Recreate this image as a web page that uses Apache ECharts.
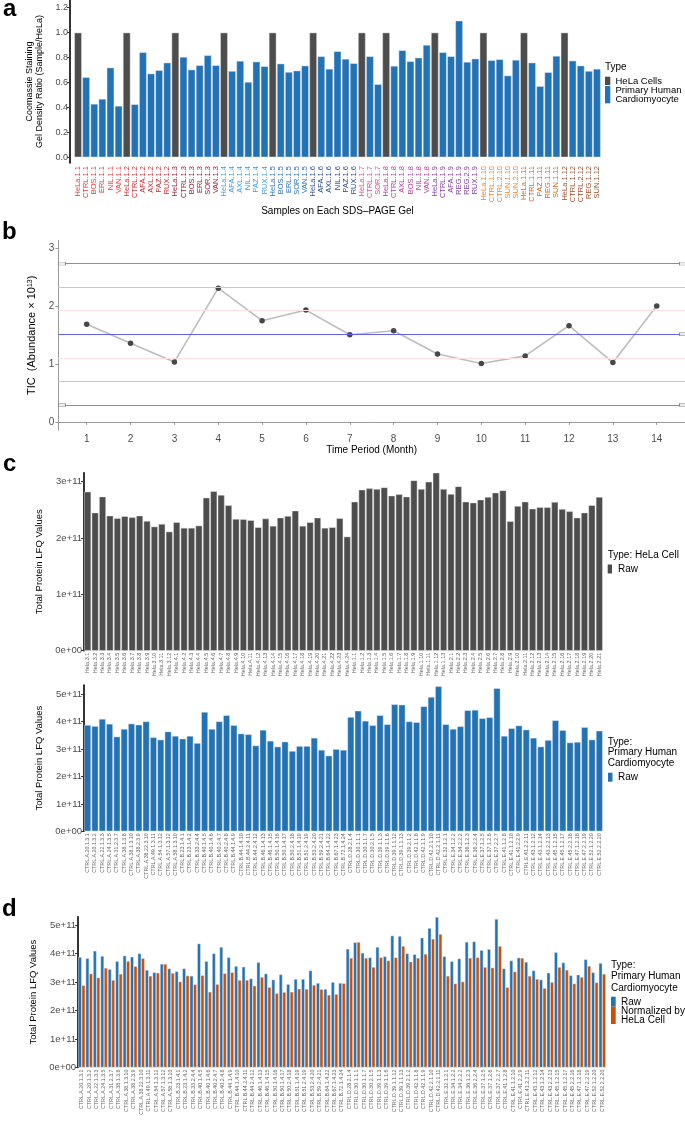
<!DOCTYPE html>
<html><head><meta charset="utf-8">
<script src="https://cdn.jsdelivr.net/npm/echarts@6/dist/echarts.min.js"></script>
<style>html,body{margin:0;padding:0;background:#fff}#chart{width:685px;height:1121px}</style>
</head><body><div id="chart"></div>
<script>
// ---------- Panel a ----------
const gelSamples = ['HeLa.1.1','CTRL.1.1','BOS.1.1','ERL.1.1','NIL.1.1','VAN.1.1',
 'HeLa.1.2','CTRL.1.2','AFA.1.2','AXL.1.2','PAZ.1.2','RUX.1.2',
 'HeLa.1.3','CTRL.1.3','BOS.1.3','ERL.1.3','SOR.1.3','VAN.1.3',
 'HeLa.1.4','AFA.1.4','AXL.1.4','NIL.1.4','PAZ.1.4','RUX.1.4',
 'HeLa.1.5','BOS.1.5','ERL.1.5','SOR.1.5','VAN.1.5',
 'HeLa.1.6','AFA.1.6','AXL.1.6','NIL.1.6','PAZ.1.6','RUX.1.6',
 'HeLa.1.7','CTRL.1.7','SOR.1.7',
 'HeLa.1.8','CTRL.1.8','AXL.1.8','BOS.1.8','NIL.1.8','VAN.1.8',
 'HeLa.1.9','CTRL.1.9','AFA.1.9','REG.1.9','REG.2.9','RUX.1.9',
 'HeLa.1.10','CTRL.1.10','CTRL.2.10','SUN.1.10','SUN.2.10',
 'HeLa.1.11','CTRL.1.11','PAZ.1.11','REG.1.11','SUN.1.11',
 'HeLa.1.12','CTRL.1.12','CTRL.2.12','REG.1.12','SUN.1.12'];
const gelRatio = [1.0,0.642,0.428,0.468,0.719,0.412,
 1.0,0.425,0.842,0.671,0.698,0.759,
 1.0,0.805,0.703,0.738,0.818,0.738,
 1.0,0.692,0.773,0.604,0.767,0.730,
 1.0,0.751,0.684,0.695,0.735,
 1.0,0.810,0.709,0.850,0.789,0.754,
 1.0,0.810,0.586,
 1.0,0.733,0.858,0.770,0.799,0.901,
 1.0,0.842,0.810,1.096,0.765,0.791,
 1.0,0.778,0.786,0.655,0.781,
 1.0,0.759,0.570,0.682,0.813,
 1.0,0.775,0.735,0.692,0.709];
const gelLabelColors = ['#e8383a','#cc2f36','#962035','#3f9ddc','#2c70b8','#2d4a8e',
 '#dc4a9c','#b23c9e','#8a3da2','#f28127','#d2652a','#9a4e2c'];
const ratioTicks = [0,0.2,0.4,0.6,0.8,1.0,1.2];

// ---------- Panel b ----------
const months = [1,2,3,4,5,6,7,8,9,10,11,12,13,14];
const ticValues = [1.690,1.362,1.040,2.316,1.753,1.937,1.511,1.580,1.178,1.011,1.144,1.667,1.029,2.006];
const ticLimits = [2.741,2.328,1.925,1.517,1.109,0.701,0.293];
const ticLimitColors = ['#e86a68','#f6b4b2','#fde0e0','#5f5ff2','#fde0e0','#f6b4b2','#e86a68'];
const ticTicks = [0,1,2,3];

// ---------- Panel c (HeLa) ----------
const helaSamples = ['Hela.3.1','Hela.3.2','Hela.3.3','Hela.3.4','Hela.3.5','Hela.3.6','Hela.3.7','Hela.3.8','Hela.3.9','Hela.3.10','Hela.3.11','Hela.3.12',
 'Hela.4.1','Hela.4.2','Hela.4.3','Hela.4.4','Hela.4.5','Hela.4.6','Hela.4.7','Hela.4.8','Hela.4.9','Hela.4.10','Hela.4.11','Hela.4.12',
 'Hela.4.13','Hela.4.14','Hela.4.15','Hela.4.16','Hela.4.17','Hela.4.18','Hela.4.19','Hela.4.20','Hela.4.21','Hela.4.22','Hela.4.23','Hela.4.24',
 'Hela.1.1','Hela.1.2','Hela.1.3','Hela.1.4','Hela.1.5','Hela.1.6','Hela.1.7','Hela.1.8','Hela.1.9','Hela.1.10','Hela.1.11','Hela.1.12','Hela.1.13',
 'Hela.2.1','Hela.2.2','Hela.2.3','Hela.2.4','Hela.2.5','Hela.2.6','Hela.2.7','Hela.2.8','Hela.2.9','Hela.2.10','Hela.2.11',
 'Hela.2.12','Hela.2.13','Hela.2.14','Hela.2.15','Hela.2.16','Hela.2.17','Hela.2.18','Hela.2.19','Hela.2.20','Hela.2.21'];
const helaRaw = [2.823,2.451,2.734,2.397,2.350,2.386,2.368,2.397,2.303,2.203,
 2.250,2.114,2.280,2.180,2.180,2.221,2.717,2.829,2.764,2.581,
 2.339,2.333,2.315,2.191,2.345,2.215,2.362,2.392,2.486,2.215,
 2.280,2.362,2.180,2.191,2.350,2.025,2.645,2.858,2.882,2.870,
 2.899,2.752,2.776,2.734,3.023,2.870,3.000,3.159,2.870,2.781,
 2.917,2.645,2.628,2.681,2.728,2.805,2.846,2.297,2.569,2.645,
 2.521,2.545,2.545,2.640,2.515,2.474,2.362,2.451,2.581,2.728];

// ---------- Panel c (cardiomyocyte) & d ----------
const cmSamples = ['CTRL.A.20.1.3.1','CTRL.A.20.1.3.2','CTRL.A.22.1.3.3','CTRL.A.24.1.3.5','CTRL.A.31.2.3.7','CTRL.A.38.1.3.8','CTRL.A.38.1.3.10','CTRL.A.38.2.3.9','CTRL.A.38.22.3.10','CTRL.A.49.1.3.11','CTRL.A.54.1.3.12','CTRL.A.57.1.3.12','CTRL.A.58.1.3.10',
 'CTRL.B.23.1.4.1','CTRL.B.23.1.4.2','CTRL.B.33.2.4.4','CTRL.B.40.1.4.5','CTRL.B.40.1.4.6','CTRL.B.40.2.4.7','CTRL.B.40.2.4.8','CTRL.B.44.1.4.9','CTRL.B.44.1.4.10','CTRL.B.44.2.4.11','CTRL.B.44.2.4.12','CTRL.B.46.1.4.13','CTRL.B.46.1.4.15','CTRL.B.50.1.4.16','CTRL.B.50.1.4.17','CTRL.B.50.2.4.18','CTRL.B.51.1.4.19','CTRL.B.51.2.4.19','CTRL.B.53.2.4.20','CTRL.B.59.2.4.21','CTRL.B.64.1.4.22','CTRL.B.67.1.4.23','CTRL.B.72.1.4.24',
 'CTRL.D.28.2.1.4','CTRL.D.30.1.1.1','CTRL.D.30.1.1.7','CTRL.D.30.2.1.5','CTRL.D.39.1.1.3','CTRL.D.39.1.1.6','CTRL.D.39.1.1.12','CTRL.D.39.1.1.13','CTRL.D.39.2.1.2','CTRL.D.42.1.1.8','CTRL.D.42.1.1.9','CTRL.D.42.2.1.10','CTRL.D.42.2.1.11',
 'CTRL.E.32.1.2.1','CTRL.E.34.1.2.2','CTRL.E.34.2.2.2','CTRL.E.36.1.2.3','CTRL.E.36.2.2.4','CTRL.E.37.1.2.5','CTRL.E.37.1.2.6','CTRL.E.37.2.2.7','CTRL.E.41.1.2.8','CTRL.E.41.1.2.10','CTRL.E.41.2.2.9','CTRL.E.41.2.2.11','CTRL.E.43.1.2.12','CTRL.E.43.1.2.14','CTRL.E.43.2.2.13','CTRL.E.45.1.2.15','CTRL.E.45.1.2.17','CTRL.E.45.2.2.16','CTRL.E.47.1.2.18','CTRL.E.47.2.2.19','CTRL.E.52.1.2.20','CTRL.E.52.2.2.20'];
const cmRaw = [3.88,3.84,4.10,3.92,3.455,3.735,3.93,3.89,4.01,3.43,
 3.345,3.64,3.48,3.38,3.48,3.22,4.355,3.735,4.01,4.235,
 3.87,3.565,3.54,3.13,3.70,3.30,3.09,3.27,2.93,3.11,
 3.11,3.41,2.97,2.76,3.00,2.97,4.17,4.40,4.03,3.87,
 4.235,3.905,4.635,4.62,4.01,3.98,4.56,4.90,5.29,3.905,
 3.735,3.83,4.415,4.43,4.125,4.16,5.22,3.48,3.76,3.86,
 3.71,3.41,3.09,3.33,4.05,3.69,3.24,3.26,3.80,3.345,3.67];
const cmNorm = [2.89,3.30,3.16,3.50,3.075,3.29,3.74,3.56,3.84,3.22,
 3.33,3.64,3.32,3.02,3.23,2.92,3.24,2.66,2.93,3.31,
 3.345,3.075,3.075,2.875,3.18,2.82,2.61,2.65,2.66,2.77,
 2.76,2.90,2.75,2.55,2.58,2.96,3.85,4.41,3.85,3.53,
 3.87,3.76,3.87,4.27,3.72,3.85,3.99,4.52,4.69,3.22,
 2.95,3.02,3.85,3.87,3.53,3.51,4.27,2.82,3.37,3.85,
 3.22,3.11,2.79,3.00,3.53,3.43,2.95,3.18,3.57,2.99,3.29];
const lfqTicks = [0,1,2,3,4,5];

// ---------- styling ----------
const FONT = '"Liberation Sans", Arial, Helvetica, sans-serif';
const GRAY = '#4d4d4d', BLUE = '#2272b6', ORANGE = '#cc4f08';
const lfqFmt = v => v === 0 ? '0e+00' : v + 'e+11';
const isHela = s => s.indexOf('HeLa') === 0;
const gelOf = s => parseInt(s.split('.').pop(), 10);

function lfqY(grid, max, gap) {
  return {
    type: 'value', gridIndex: grid, min: 0, max: max,
    axisLine: {show: true, lineStyle: {color: '#000', width: 1.6}},
    axisTick: {show: true, length: 3, lineStyle: {color: '#333'}, customValues: lfqTicks.filter(v => v <= max)},
    axisLabel: {fontSize: 9.5, color: GRAY, margin: 2, formatter: lfqFmt, customValues: lfqTicks.filter(v => v <= max)},
    splitLine: {show: false},
    name: 'Total Protein LFQ Values', nameLocation: 'middle', nameGap: gap,
    nameTextStyle: {fontSize: 9.5, color: '#000'}
  };
}
function sampleX(grid, data, fs) {
  return {
    type: 'category', gridIndex: grid, data: data,
    axisLine: {show: false}, axisTick: {show: false},
    axisLabel: {rotate: 90, interval: 0, fontSize: fs, color: '#666', margin: 2}
  };
}
const barBorder = {borderColor: 'rgba(235,235,235,0.9)', borderWidth: 0.5};

const limitSeries = ticLimits.map((v, i) => ({
  name: 'limit' + i, type: 'line', xAxisIndex: 1, yAxisIndex: 1, data: [], z: 1, silent: true,
  color: ticLimitColors[i],
  markLine: {symbol: 'none', silent: true, label: {show: false}, animation: false,
    lineStyle: {type: 'solid', width: 1.2, color: ticLimitColors[i], opacity: 1},
    data: [{yAxis: v}]}
}));

const option = {
  animation: false,
  textStyle: {fontFamily: FONT},
  grid: [
    {left: 74, right: 84, top: 0, height: 163, outerBoundsMode: 'none'},
    {left: 58.3, right: 0, top: 240.3, height: 190, outerBoundsMode: 'none'},
    {left: 84, right: 82, top: 472.7, height: 178, outerBoundsMode: 'none'},
    {left: 84, right: 82, top: 685, height: 146.3, outerBoundsMode: 'none'},
    {left: 78, right: 79, top: 916.7, height: 150.8, outerBoundsMode: 'none'}
  ],
  xAxis: [
    {
      type: 'category', gridIndex: 0, data: gelSamples,
      axisLine: {show: false}, axisTick: {show: false},
      axisLabel: {rotate: 90, interval: 0, fontSize: 7.5, margin: 3,
        color: (v) => gelLabelColors[gelOf(v) - 1]},
      name: 'Samples on Each SDS\u2013PAGE Gel', nameLocation: 'middle', nameGap: 42,
      nameTextStyle: {fontSize: 10, color: '#000'}
    },
    {
      type: 'value', gridIndex: 1, min: 0.352, max: 14.645,
      axisLine: {show: true, lineStyle: {color: '#9a9a9a', width: 1}},
      axisTick: {show: true, length: 3, lineStyle: {color: '#9a9a9a'}, customValues: months},
      axisLabel: {fontSize: 10, color: GRAY, margin: 4, customValues: months},
      splitLine: {show: false},
      name: 'Time Period (Month)', nameLocation: 'middle', nameGap: 13,
      nameTextStyle: {fontSize: 10, color: '#000'}
    },
    sampleX(2, helaSamples, 5.5),
    sampleX(3, cmSamples, 5.3),
    sampleX(4, cmSamples, 5.3)
  ],
  yAxis: [
    {
      type: 'value', gridIndex: 0, min: -0.046, max: 1.262, offset: 4,
      axisLine: {show: true, lineStyle: {color: '#000', width: 1.6}},
      axisTick: {show: true, length: 3, lineStyle: {color: '#333'}, customValues: ratioTicks},
      axisLabel: {fontSize: 9, color: GRAY, margin: 2, formatter: v => v.toFixed(1), customValues: ratioTicks},
      splitLine: {show: false},
      name: 'Coomassie Staining\nGel Density Ratio (Sample/HeLa)', nameLocation: 'middle', nameGap: 22,
      nameTextStyle: {fontSize: 9, color: '#000', lineHeight: 10}
    },
    {
      type: 'value', gridIndex: 1, min: -0.144, max: 3.145,
      axisLine: {show: true, lineStyle: {color: '#9a9a9a', width: 1}},
      axisTick: {show: true, length: 3, lineStyle: {color: '#9a9a9a'}, customValues: ticTicks},
      axisLabel: {fontSize: 10, color: GRAY, margin: 4, customValues: ticTicks},
      splitLine: {show: false},
      name: '{n|TIC  (Abundance \u00d7 10}{s|13}{n|)}', nameLocation: 'middle', nameGap: 12,
      nameTextStyle: {color: '#000', rich: {n: {fontSize: 11, color: '#000'}, s: {fontSize: 7, color: '#000', verticalAlign: 'top'}}}
    },
    lfqY(2, 3.16, 37),
    lfqY(3, 5.34, 37),
    lfqY(4, 5.30, 34)
  ],
  series: [
    {name: 'HeLa Cells', type: 'bar', xAxisIndex: 0, yAxisIndex: 0,
     data: gelRatio.map((v, i) => isHela(gelSamples[i]) ? v : null),
     itemStyle: Object.assign({color: GRAY}, barBorder), barGap: '-100%', barCategoryGap: '8%'},
    {name: 'Primary Human Cardiomyocyte', type: 'bar', xAxisIndex: 0, yAxisIndex: 0,
     data: gelRatio.map((v, i) => isHela(gelSamples[i]) ? null : v),
     itemStyle: Object.assign({color: BLUE}, barBorder), barGap: '-100%', barCategoryGap: '8%'},
    ...limitSeries,
    {name: 'limitBoxes', type: 'line', xAxisIndex: 1, yAxisIndex: 1, data: [], z: 2, silent: true,
     markPoint: {symbol: 'rect', symbolSize: [7, 3], silent: true, label: {show: false},
       itemStyle: {color: '#eeeeee', borderColor: '#8a8a8a', borderWidth: 0.7},
       data: [{coord: [0.436, ticLimits[0]]}, {coord: [0.436, ticLimits[6]]},
              {coord: [14.6, ticLimits[0]]}, {coord: [14.6, ticLimits[3]]}, {coord: [14.6, ticLimits[6]]}]}},
    {name: 'TIC', type: 'line', xAxisIndex: 1, yAxisIndex: 1, z: 3,
     data: months.map((m, i) => [m, ticValues[i]]),
     symbol: 'circle', symbolSize: 5.5, showSymbol: true,
     itemStyle: {color: '#474747'}, lineStyle: {color: '#bdbdbd', width: 1.6}},
    {name: 'HeLa Raw', type: 'bar', xAxisIndex: 2, yAxisIndex: 2, data: helaRaw,
     itemStyle: Object.assign({color: GRAY}, barBorder), barCategoryGap: '8%'},
    {name: 'CM Raw', type: 'bar', xAxisIndex: 3, yAxisIndex: 3, data: cmRaw,
     itemStyle: Object.assign({color: BLUE}, barBorder), barCategoryGap: '8%'},
    {name: 'Raw', type: 'bar', xAxisIndex: 4, yAxisIndex: 4, data: cmRaw,
     itemStyle: Object.assign({color: BLUE}, barBorder), barGap: '0%', barCategoryGap: '6%'},
    {name: 'Normalized', type: 'bar', xAxisIndex: 4, yAxisIndex: 4, data: cmNorm,
     itemStyle: Object.assign({color: ORANGE}, barBorder), barGap: '0%', barCategoryGap: '6%'}
  ],
  graphic: [
    // panel letters
    {type: 'text', style: {text: 'a', x: 3, y: 21, fontSize: 24, fontWeight: 'bold', fontFamily: FONT, fill: '#000', verticalAlign: 'bottom'}},
    {type: 'text', style: {text: 'b', x: 2, y: 244, fontSize: 24, fontWeight: 'bold', fontFamily: FONT, fill: '#000', verticalAlign: 'bottom'}},
    {type: 'text', style: {text: 'c', x: 3, y: 476, fontSize: 24, fontWeight: 'bold', fontFamily: FONT, fill: '#000', verticalAlign: 'bottom'}},
    {type: 'text', style: {text: 'd', x: 2, y: 921, fontSize: 24, fontWeight: 'bold', fontFamily: FONT, fill: '#000', verticalAlign: 'bottom'}},
    // legend a
    {type: 'text', style: {text: 'Type', x: 605, y: 67.5, fontSize: 10, fontFamily: FONT, fill: '#000', verticalAlign: 'middle'}},
    {type: 'rect', shape: {x: 605, y: 76.7, width: 5.3, height: 8.3}, style: {fill: GRAY}},
    {type: 'text', style: {text: 'HeLa Cells', x: 615.5, y: 81, fontSize: 9.5, fontFamily: FONT, fill: '#000', verticalAlign: 'middle'}},
    {type: 'rect', shape: {x: 605, y: 86, width: 5.3, height: 17.3}, style: {fill: BLUE}},
    {type: 'text', style: {text: 'Primary Human\nCardiomyocyte', x: 615.5, y: 95, fontSize: 9.5, lineHeight: 8.7, fontFamily: FONT, fill: '#000', verticalAlign: 'middle'}},
    // legend c top
    {type: 'text', style: {text: 'Type: HeLa Cell', x: 607.7, y: 555, fontSize: 10, fontFamily: FONT, fill: '#000', verticalAlign: 'middle'}},
    {type: 'rect', shape: {x: 607.7, y: 564.5, width: 4.3, height: 9}, style: {fill: GRAY}},
    {type: 'text', style: {text: 'Raw', x: 618, y: 569, fontSize: 10, fontFamily: FONT, fill: '#000', verticalAlign: 'middle'}},
    // legend c bottom
    {type: 'text', style: {text: 'Type:\nPrimary Human\nCardiomyocyte', x: 607.7, y: 752.3, fontSize: 10, lineHeight: 10.5, fontFamily: FONT, fill: '#000', verticalAlign: 'middle'}},
    {type: 'rect', shape: {x: 608, y: 772.7, width: 4.5, height: 9}, style: {fill: BLUE}},
    {type: 'text', style: {text: 'Raw', x: 618, y: 777.3, fontSize: 10, fontFamily: FONT, fill: '#000', verticalAlign: 'middle'}},
    // legend d
    {type: 'text', style: {text: 'Type:\nPrimary Human\nCardiomyocyte', x: 611, y: 976.5, fontSize: 10, lineHeight: 11.3, fontFamily: FONT, fill: '#000', verticalAlign: 'middle'}},
    {type: 'rect', shape: {x: 611, y: 996.7, width: 4.7, height: 10}, style: {fill: BLUE}},
    {type: 'rect', shape: {x: 611, y: 1006.7, width: 4.7, height: 17.3}, style: {fill: ORANGE}},
    {type: 'text', style: {text: 'Raw', x: 621, y: 1002, fontSize: 10, fontFamily: FONT, fill: '#000', verticalAlign: 'middle'}},
    {type: 'text', style: {text: 'Normalized by\nHeLa Cell', x: 621, y: 1016, fontSize: 10, lineHeight: 8.6, fontFamily: FONT, fill: '#000', verticalAlign: 'middle'}}
  ]
};
const chart = echarts.init(document.getElementById('chart'), null, {renderer: 'canvas', width: 685, height: 1121});
chart.setOption(option);
</script>
</body></html>
